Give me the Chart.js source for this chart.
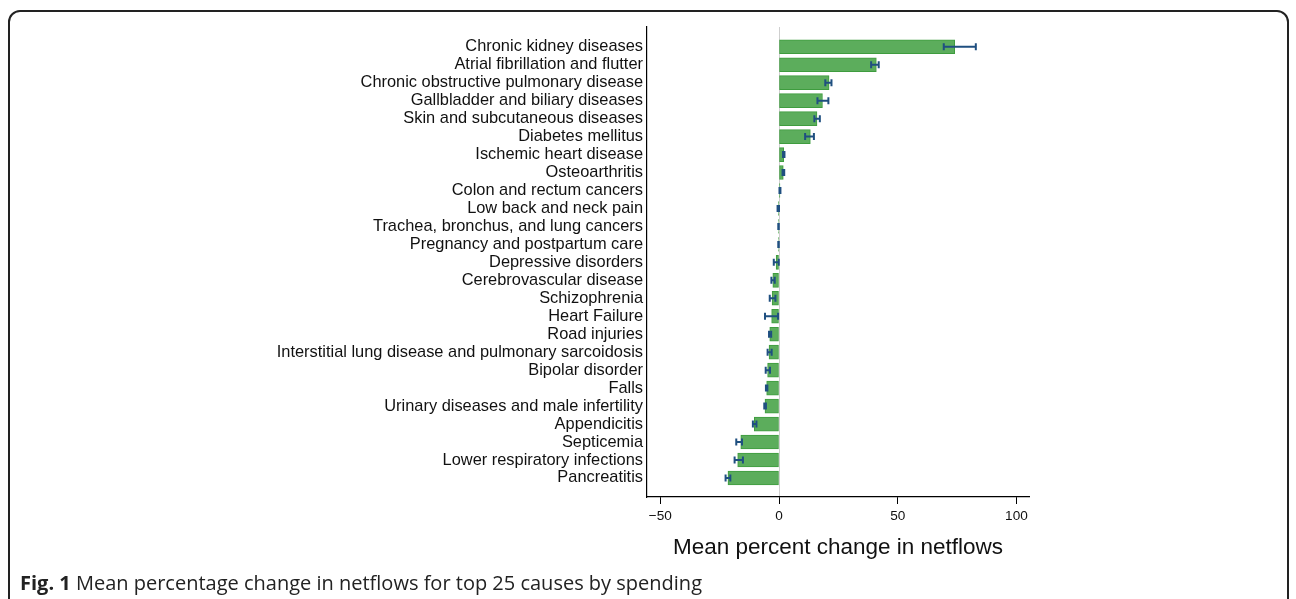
<!DOCTYPE html>
<html lang="en">
<head>
    <meta charset="UTF-8">
    <title>Mean percentage change in netflows</title>
    <script src="https://cdn.jsdelivr.net/npm/chart.js"></script>
    <style>
        html, body {
            margin: 0;
            padding: 0;
            background: #fff;
            overflow: hidden;
        }
        .frame {
            position: absolute;
            left: 8px;
            top: 10px;
            width: 1281px;
            height: 640px;
            border: 2px solid #222;
            border-radius: 12px;
            box-sizing: border-box;
        }
        #chart {
            position: absolute;
            left: 0;
            top: 0;
        }
        .caption {
            position: absolute;
            left: 20px;
            top: 571px;
            line-height: 24px;
            font-family: "Open Sans", sans-serif;
            font-size: 20px;
            color: #222;
            white-space: nowrap;
        }
        .caption b {
            font-weight: 700;
        }
    </style>
</head>
<body>
    <div class="frame"></div>
    <canvas id="chart" width="1296" height="570"></canvas>
    <div class="caption"><b>Fig. 1</b> Mean percentage change in netflows for top 25 causes by spending</div>

    <script>
        const causes = [
            'Chronic kidney diseases',
            'Atrial fibrillation and flutter',
            'Chronic obstructive pulmonary disease',
            'Gallbladder and biliary diseases',
            'Skin and subcutaneous diseases',
            'Diabetes mellitus',
            'Ischemic heart disease',
            'Osteoarthritis',
            'Colon and rectum cancers',
            'Low back and neck pain',
            'Trachea, bronchus, and lung cancers',
            'Pregnancy and postpartum care',
            'Depressive disorders',
            'Cerebrovascular disease',
            'Schizophrenia',
            'Heart Failure',
            'Road injuries',
            'Interstitial lung disease and pulmonary sarcoidosis',
            'Bipolar disorder',
            'Falls',
            'Urinary diseases and male infertility',
            'Appendicitis',
            'Septicemia',
            'Lower respiratory infections',
            'Pancreatitis'
        ];

        // mean percent change and its interval
        const meanChange = [74.0, 41.0, 21.1, 18.3, 16.0, 13.2, 2.0, 1.8, 0.4, -0.3, -0.2, -0.2,
            -1.2, -2.6, -2.9, -3.1, -3.9, -4.2, -4.8, -5.2, -5.9, -10.4, -16.1, -17.4, -21.5];
        const ciLow = [69.4, 38.8, 19.5, 16.2, 14.9, 11.0, 1.7, 1.5, 0.2, -0.6, -0.3, -0.3,
            -2.2, -3.2, -3.9, -5.9, -4.2, -4.8, -5.6, -5.5, -6.2, -11.0, -18.0, -18.7, -22.5];
        const ciHigh = [82.9, 42.0, 22.1, 20.8, 17.2, 14.7, 2.3, 2.2, 0.6, 0.0, -0.1, -0.1,
            -0.1, -1.8, -1.5, -0.4, -3.3, -3.1, -3.8, -4.9, -5.5, -9.5, -15.6, -15.2, -20.5];

        const xTicks = [-50, 0, 50, 100];

        const errorBars = {
            id: 'errorBars',
            afterDatasetsDraw(chart) {
                const ctx = chart.ctx;
                const xs = chart.scales.x;
                const ys = chart.scales.y;
                ctx.save();
                ctx.strokeStyle = '#1f4f80';
                ctx.lineWidth = 2;
                for (let i = 0; i < causes.length; i++) {
                    const y = ys.getPixelForValue(i);
                    const x1 = xs.getPixelForValue(ciLow[i]);
                    const x2 = xs.getPixelForValue(ciHigh[i]);
                    ctx.beginPath();
                    ctx.moveTo(x1, y);
                    ctx.lineTo(x2, y);
                    ctx.moveTo(x1, y - 3.5);
                    ctx.lineTo(x1, y + 3.5);
                    ctx.moveTo(x2, y - 3.5);
                    ctx.lineTo(x2, y + 3.5);
                    ctx.stroke();
                }
                ctx.restore();
            }
        };

        new Chart(document.getElementById('chart'), {
            type: 'bar',
            data: {
                datasets: [{
                    data: meanChange.map((v, i) => ({ x: v, y: i })),
                    backgroundColor: '#5cad5c',
                    borderColor: '#3e9c3e',
                    borderWidth: 1,
                    borderSkipped: false,
                    barThickness: 14
                }]
            },
            options: {
                indexAxis: 'y',
                responsive: false,
                animation: false,
                layout: { padding: { top: 27, right: 267, left: 0, bottom: 0 } },
                plugins: {
                    legend: { display: false },
                    tooltip: { enabled: false }
                },
                scales: {
                    x: {
                        type: 'linear',
                        min: -55.6,
                        max: 105.3,
                        afterBuildTicks: s => { s.ticks = xTicks.map(v => ({ value: v })); },
                        afterFit: s => { s.height = 73; },
                        grid: {
                            color: c => c.tick && c.tick.value === 0 ? '#cfcfcf' : 'rgba(0,0,0,0)',
                            tickColor: '#000',
                            tickLength: 7
                        },
                        border: { display: true, color: '#000', width: 1.2 },
                        ticks: {
                            color: '#111',
                            padding: 4,
                            font: { family: 'Liberation Sans, Arial, sans-serif', size: 13.6 },
                            callback: v => String(v).replace('-', '\u2212')
                        },
                        title: {
                            display: true,
                            text: 'Mean percent change in netflows',
                            color: '#111',
                            padding: { top: 0, bottom: 9 },
                            font: { family: 'Liberation Sans, Arial, sans-serif', size: 22.5 }
                        }
                    },
                    y: {
                        type: 'linear',
                        reverse: true,
                        offset: false,
                        min: -1.1,
                        max: 25.06,
                        afterBuildTicks: s => { s.ticks = causes.map((c, i) => ({ value: i })); },
                        afterFit: s => { s.width = 647; },
                        grid: { offset: false, drawOnChartArea: false, drawTicks: false },
                        border: { display: true, color: '#000', width: 1.2 },
                        ticks: {
                            color: '#111',
                            padding: 4,
                            autoSkip: false,
                            font: { family: 'Liberation Sans, Arial, sans-serif', size: 16.4 },
                            callback: v => causes[v]
                        }
                    }
                }
            },
            plugins: [errorBars]
        });
    </script>
</body>
</html>
